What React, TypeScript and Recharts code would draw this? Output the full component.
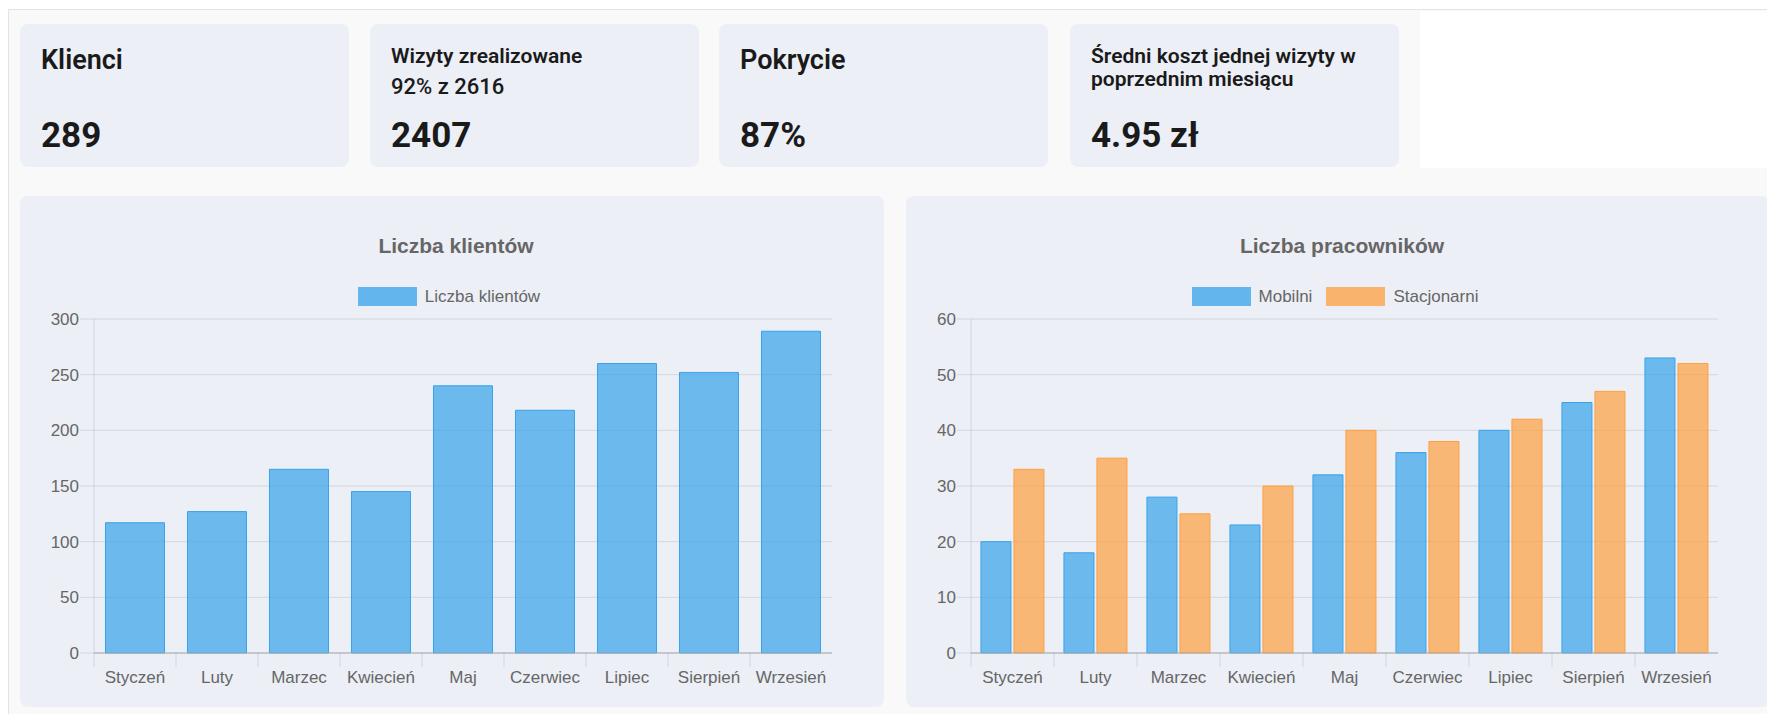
import React from "react";
import { BarChart, Bar, XAxis, YAxis, CartesianGrid } from "recharts";

const months = ["Styczeń", "Luty", "Marzec", "Kwiecień", "Maj", "Czerwiec", "Lipiec", "Sierpień", "Wrzesień"];
const klienci = [117, 127, 165, 145, 240, 218, 260, 252, 289];
const mobilni = [20, 18, 28, 23, 32, 36, 40, 45, 53];
const stacjonarni = [33, 35, 25, 30, 40, 38, 42, 47, 52];
const klienciTicks = [0, 50, 100, 150, 200, 250, 300];
const pracownicyTicks = [0, 10, 20, 30, 40, 50, 60];

const kpiTitles = ["Klienci", "Wizyty zrealizowane", "Pokrycie", "Średni koszt jednej wizyty w|poprzednim miesiącu"];
const kpiSubtitles = ["", "92% z 2616", "", ""];
const kpiValues = ["289", "2407", "87%", "4.95 zł"];

const BLUE = "#36a2eb";
const ORANGE = "#ff9f40";
const CARD_BG = "#eceff6";
const GRID = "rgba(0,0,0,0.1)";
const AXIS_FONT = "'Liberation Sans', Arial, sans-serif";

const CHART_W = 864;
const CHART_H = 511;
const TOP = 123;
const RIGHT = 52;
const X_AXIS_H = 54;

const klienciData = months.map((m, i) => ({ month: m, klienci: klienci[i] }));
const pracownicyData = months.map((m, i) => ({ month: m, mobilni: mobilni[i], stacjonarni: stacjonarni[i] }));

// category label + separator tick on the left edge of each band (chart.js style)
function MonthTick(props: any) {
    const { x, payload, band } = props;
    const axisY = CHART_H - X_AXIS_H;
    const lx = x - band / 2;
    return (
        <g>
            <line x1={lx} x2={lx} y1={axisY} y2={axisY + 14} stroke={GRID} />
            <text x={x} y={axisY + 30} textAnchor="middle" fill="#666" fontSize={17} fontFamily={AXIS_FONT}>
                {payload.value}
            </text>
        </g>
    );
}

function Legend({ items }: { items: { name: string; color: string }[] }) {
    return (
        <div
            style={{
                position: "absolute",
                top: 91,
                left: 0,
                width: 858,
                display: "flex",
                justifyContent: "center",
                fontFamily: AXIS_FONT,
                fontSize: 17,
                lineHeight: "19px",
                color: "#666",
            }}
        >
            {items.map((it, i) => (
                <div key={it.name} style={{ display: "flex", alignItems: "center", marginLeft: i ? 14 : 0 }}>
                    <span
                        style={{
                            display: "inline-block",
                            width: 57,
                            height: 17,
                            background: it.color,
                            opacity: 0.75,
                            border: `1px solid ${it.color}`,
                            marginRight: 8,
                        }}
                    />
                    <span>{it.name}</span>
                </div>
            ))}
        </div>
    );
}

function Panel({ left, title, children }: { left: number; title: string; children: React.ReactNode }) {
    return (
        <div
            style={{
                position: "absolute",
                left,
                top: 196,
                width: CHART_W,
                height: CHART_H,
                background: CARD_BG,
                borderRadius: 8,
                overflow: "hidden",
            }}
        >
            <div
                style={{
                    position: "absolute",
                    top: 38,
                    left: 0,
                    width: 872,
                    textAlign: "center",
                    fontFamily: AXIS_FONT,
                    fontWeight: 700,
                    fontSize: 21,
                    lineHeight: "24px",
                    color: "#666",
                }}
            >
                {title}
            </div>
            {children}
        </div>
    );
}

function KpiCard({ left, i }: { left: number; i: number }) {
    const lines = kpiTitles[i].split("|");
    const big = lines.length === 1 && !kpiSubtitles[i];
    return (
        <div
            style={{
                position: "absolute",
                left,
                top: 24,
                width: 329,
                height: 143,
                background: CARD_BG,
                borderRadius: 8,
                fontFamily: "Roboto, sans-serif",
                color: "#1a1a1a",
            }}
        >
            {big ? (
                <div style={{ position: "absolute", left: 21, top: 23, fontSize: 27, lineHeight: "27px", fontWeight: 600 }}>
                    {lines[0]}
                </div>
            ) : (
                <div style={{ position: "absolute", left: 21, top: 21, fontSize: 21, lineHeight: "23px", fontWeight: 600, whiteSpace: "nowrap" }}>
                    {lines.map((l) => (
                        <div key={l}>{l}</div>
                    ))}
                </div>
            )}
            {kpiSubtitles[i] && (
                <div style={{ position: "absolute", left: 21, top: 52, fontSize: 22, lineHeight: "22px", fontWeight: 500 }}>
                    {kpiSubtitles[i]}
                </div>
            )}
            <div style={{ position: "absolute", left: 21, top: 94, fontSize: 35, lineHeight: "35px", fontWeight: 700 }}>
                {kpiValues[i]}
            </div>
        </div>
    );
}

export default function App() {
    const band1 = (CHART_W - 74 - RIGHT) / months.length;
    const band2 = (CHART_W - 65 - RIGHT) / months.length;
    const cardLefts = [20, 370, 719, 1070];

    return (
        <div style={{ position: "fixed", left: 0, top: 0, width: 1767, height: 714, overflow: "hidden", background: "#fff" }}>
            <div
                style={{
                    position: "absolute",
                    left: 8,
                    top: 9,
                    width: 1800,
                    height: 800,
                    background: "#f9f9fa",
                    border: "1px solid #e4e4e4",
                }}
            />
            <div style={{ position: "absolute", left: 1420, top: 11, width: 347, height: 157, background: "#fff" }} />

            {cardLefts.map((l, i) => (
                <KpiCard key={i} left={l} i={i} />
            ))}

            <Panel left={20} title="Liczba klientów">
                <Legend items={[{ name: "Liczba klientów", color: BLUE }]} />
                <BarChart
                    width={CHART_W}
                    height={CHART_H}
                    data={klienciData}
                    margin={{ top: TOP, right: RIGHT, bottom: 0, left: 0 }}
                    barCategoryGap="14%"
                    style={{ fontFamily: AXIS_FONT }}
                >
                    <CartesianGrid vertical={false} stroke={GRID} />
                    <XAxis
                        dataKey="month"
                        height={X_AXIS_H}
                        interval={0}
                        tickLine={false}
                        axisLine={{ stroke: "#a9abb0" }}
                        tick={(p: any) => <MonthTick {...p} band={band1} />}
                    />
                    <YAxis
                        width={74}
                        domain={[0, 300]}
                        ticks={klienciTicks}
                        interval={0}
                        tickSize={14}
                        tickMargin={1}
                        tickLine={{ stroke: GRID }}
                        axisLine={{ stroke: GRID }}
                        tick={{ fill: "#666", fontSize: 17 }}
                    />
                    <Bar dataKey="klienci" fill={BLUE} fillOpacity={0.7} stroke={BLUE} strokeWidth={1} isAnimationActive={false} />
                </BarChart>
            </Panel>

            <Panel left={906} title="Liczba pracowników">
                <Legend
                    items={[
                        { name: "Mobilni", color: BLUE },
                        { name: "Stacjonarni", color: ORANGE },
                    ]}
                />
                <BarChart
                    width={CHART_W}
                    height={CHART_H}
                    data={pracownicyData}
                    margin={{ top: TOP, right: RIGHT, bottom: 0, left: 0 }}
                    barCategoryGap="12%"
                    barGap={3}
                    style={{ fontFamily: AXIS_FONT }}
                >
                    <CartesianGrid vertical={false} stroke={GRID} />
                    <XAxis
                        dataKey="month"
                        height={X_AXIS_H}
                        interval={0}
                        tickLine={false}
                        axisLine={{ stroke: "#a9abb0" }}
                        tick={(p: any) => <MonthTick {...p} band={band2} />}
                    />
                    <YAxis
                        width={65}
                        domain={[0, 60]}
                        ticks={pracownicyTicks}
                        interval={0}
                        tickSize={14}
                        tickMargin={1}
                        tickLine={{ stroke: GRID }}
                        axisLine={{ stroke: GRID }}
                        tick={{ fill: "#666", fontSize: 17 }}
                    />
                    <Bar dataKey="mobilni" fill={BLUE} fillOpacity={0.7} stroke={BLUE} strokeWidth={1} isAnimationActive={false} />
                    <Bar dataKey="stacjonarni" fill={ORANGE} fillOpacity={0.7} stroke={ORANGE} strokeWidth={1} isAnimationActive={false} />
                </BarChart>
            </Panel>
        </div>
    );
}
